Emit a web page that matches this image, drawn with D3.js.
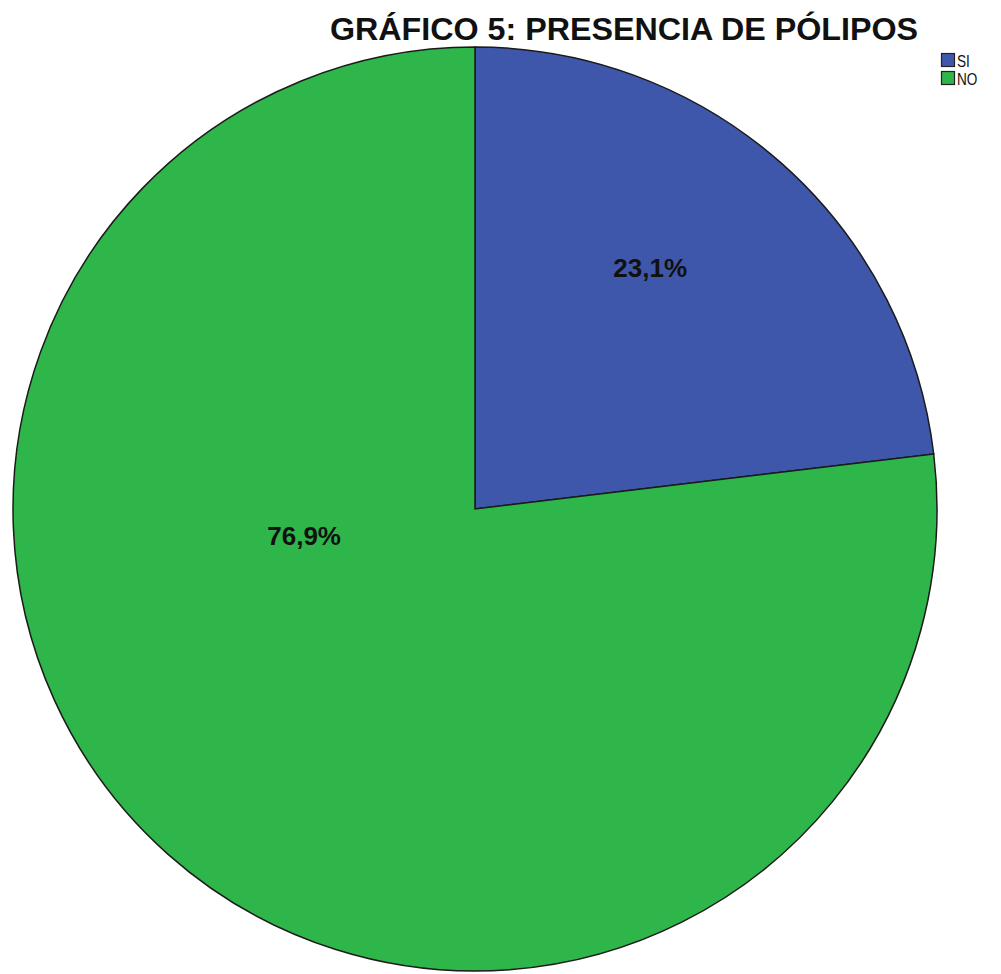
<!DOCTYPE html>
<html>
<head>
<meta charset="utf-8">
<script src="https://cdn.jsdelivr.net/npm/d3@7"></script>
<style>
  body { margin: 0; background: #fff; }
  text { font-family: "Liberation Sans", Arial, sans-serif; }
</style>
</head>
<body>
<svg id="chart"></svg>
<script>
const categories = ["SI", "NO"];
const values = [23.1, 76.9];
const labels = ["23,1%", "76,9%"];
const colors = ["#3f57aa", "#2fb64a"];

const width = 1001;
const height = 974;
const cx = 475, cy = 509, radius = 462;

const svg = d3.select("#chart")
  .attr("width", width)
  .attr("height", height);

// Pie
const pie = d3.pie().sort(null).value(d => d);
const arcs = pie(values);
const arc = d3.arc().innerRadius(0).outerRadius(radius);

const g = svg.append("g")
  .attr("transform", `translate(${cx},${cy})`);

g.selectAll("path")
  .data(arcs)
  .enter().append("path")
  .attr("d", arc)
  .attr("fill", (d, i) => colors[i])
  .attr("stroke", "#1b1b1b")
  .attr("stroke-width", 1.5);

// Labels: SPSS places them at a fixed polar spot per slice
const labelPos = [
  { angle: 36, r: 298 },
  { angle: 261, r: 173 }
];
g.selectAll("text.lbl")
  .data(arcs)
  .enter().append("text")
  .attr("class", "lbl")
  .attr("transform", (d, i) => {
    const p = d3.pointRadial(labelPos[i].angle * Math.PI / 180, labelPos[i].r);
    return `translate(${p[0]},${p[1]})`;
  })
  .attr("text-anchor", "middle")
  .attr("dy", "0.35em")
  .style("font-size", "26px")
  .style("font-weight", "bold")
  .attr("fill", "#111")
  .text((d, i) => labels[i]);

// Title
svg.append("text")
  .attr("x", 624)
  .attr("y", 40)
  .attr("text-anchor", "middle")
  .attr("textLength", 588)
  .attr("lengthAdjust", "spacingAndGlyphs")
  .style("font-size", "31px")
  .style("font-weight", "bold")
  .attr("fill", "#111")
  .text("GRÁFICO 5: PRESENCIA DE PÓLIPOS");

// Legend
const legend = svg.append("g")
  .attr("transform", "translate(941,53)");

categories.forEach((c, i) => {
  const row = legend.append("g")
    .attr("transform", `translate(0, ${i * 18})`);
  row.append("rect")
    .attr("x", 0.5)
    .attr("y", 0.5)
    .attr("width", 13)
    .attr("height", 13)
    .attr("fill", colors[i])
    .attr("stroke", "#222")
    .attr("stroke-width", 1.2);
  row.append("text")
    .attr("transform", "translate(16,13.5) scale(0.85,1)")
    .style("font-size", "16px")
    .attr("fill", "#111")
    .text(c);
});
</script>
</body>
</html>
